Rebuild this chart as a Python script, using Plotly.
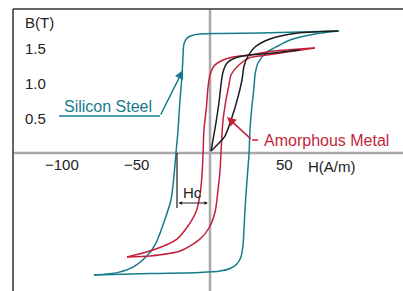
import plotly.graph_objects as go

# ---- data (H in A/m, B in T) ----
si_desc_H = [87.2, 60.8, 33.8, 6.8, -6.8, -12.2, -15.5, -17.6, -18.2, -18.9, -20.3, -21.6, -23.0, -24.3, -26.4, -31.8, -36.5, -42.6, -52.0, -62.0, -78.4]
si_desc_B = [1.743, 1.729, 1.714, 1.707, 1.70, 1.68, 1.643, 1.557, 1.40, 1.114, 0.757, 0.329, 0.0, -0.314, -0.671, -1.029, -1.286, -1.471, -1.629, -1.705, -1.743]
si_asc_H = [-78.4, -40.5, -6.8, 6.8, 13.5, 18.2, 20.9, 22.3, 23.6, 25.0, 26.4, 27.0, 28.4, 29.7, 30.4, 32.4, 38.5, 45.9, 54.1, 70.9, 87.2]
si_asc_B = [-1.743, -1.721, -1.707, -1.686, -1.65, -1.586, -1.486, -1.314, -0.814, -0.386, 0.0, 0.329, 0.686, 0.929, 1.114, 1.286, 1.443, 1.529, 1.614, 1.70, 1.743]

am_desc_H = [70.9, 60.8, 40.5, 27.0, 15.5, 7.4, 2.7, 0.0, -1.4, -2.4, -4.1, -4.7, -5.4, -6.8, -9.5, -14.9, -22.3, -38.5, -56.1]
am_desc_B = [1.50, 1.486, 1.45, 1.40, 1.371, 1.314, 1.243, 1.114, 0.929, 0.657, 0.329, 0.0, -0.314, -0.60, -0.843, -1.043, -1.229, -1.386, -1.486]
am_asc_H = [-56.1, -40.5, -20.3, -6.8, -0.7, 3.4, 5.4, 6.8, 7.4, 8.8, 10.8, 12.8, 14.2, 20.3, 27.0, 38.5, 54.1, 70.9]
am_asc_B = [-1.486, -1.471, -1.40, -1.229, -1.071, -0.843, -0.529, -0.243, 0.0, 0.471, 0.757, 0.971, 1.114, 1.271, 1.364, 1.40, 1.45, 1.50]

bk_desc_H = [60.8, 42.6, 27.0, 16.9, 11.5, 8.8, 7.4, 6.1, 4.1, 2.0, 0.7]
bk_desc_B = [1.471, 1.429, 1.40, 1.357, 1.286, 1.157, 0.971, 0.729, 0.443, 0.186, 0.029]
bk_asc_H = [0.7, 5.4, 10.1, 14.9, 18.9, 21.6, 23.0, 25.7, 30.4, 40.5, 59.5, 86.5]
bk_asc_B = [0.029, 0.129, 0.243, 0.514, 0.80, 1.043, 1.243, 1.386, 1.514, 1.629, 1.714, 1.743]

x_ticks = [-100, -50, 50]
x_tick_labels = ["\u2212100", "\u221250", "50"]
y_ticks = [0.5, 1.0, 1.5]
y_tick_labels = ["0.5", "1.0", "1.5"]

TEAL = "#177b8c"
RED = "#c41f3b"
BLACK = "#1e1e1e"
GRAY = "#a9a9a9"
FONT = "Liberation Sans, Arial, sans-serif"

fig = go.Figure()

def add(h, b, color):
    fig.add_trace(go.Scatter(x=h, y=b, mode="lines",
                             line=dict(color=color, width=1.5, shape="spline", smoothing=0.8),
                             hoverinfo="skip", showlegend=False))

# axes (gray)
fig.add_shape(type="line", xref="paper", yref="y", x0=13/403, x1=1, y0=0, y1=0,
              line=dict(color=GRAY, width=2.5), layer="below")
fig.add_shape(type="line", xref="x", yref="paper", x0=0, x1=0, y0=0, y1=1 - 9/291,
              line=dict(color=GRAY, width=2.5), layer="below")
# frame
fig.add_shape(type="line", xref="paper", yref="paper", x0=13/403, x1=13/403, y0=0, y1=1 - 9/291,
              line=dict(color="#333", width=1.5))
fig.add_shape(type="line", xref="paper", yref="paper", x0=13/403, x1=1, y0=1 - 9/291, y1=1 - 9/291,
              line=dict(color="#333", width=1.5))

add(si_desc_H, si_desc_B, TEAL)
add(si_asc_H, si_asc_B, TEAL)
add(am_desc_H, am_desc_B, RED)
add(am_asc_H, am_asc_B, RED)
add(bk_desc_H, bk_desc_B, BLACK)
add(bk_asc_H, bk_asc_B, BLACK)

ann = []
for v, t in zip(x_ticks, x_tick_labels):
    ann.append(dict(x=v, y=-0.17, text=t, showarrow=False, xanchor="center", yanchor="middle",
                    font=dict(size=15, color="#222", family=FONT)))
for v, t in zip(y_ticks, y_tick_labels):
    ann.append(dict(x=-118, y=v, text=t, showarrow=False, xanchor="center", yanchor="middle",
                    font=dict(size=15, color="#222", family=FONT)))
ann.append(dict(x=-115, y=1.86, text="B(T)", showarrow=False, xanchor="center", yanchor="middle",
                font=dict(size=15, color="#222", family=FONT)))
ann.append(dict(x=82.4, y=-0.19, text="H(A/m)", showarrow=False, xanchor="center", yanchor="middle",
                font=dict(size=15, color="#222", family=FONT)))

# Silicon Steel label
ann.append(dict(x=-69, y=0.66, text="Silicon Steel", showarrow=False, xanchor="center", yanchor="middle",
                font=dict(size=16, color=TEAL, family=FONT)))
fig.add_shape(type="line", xref="x", yref="y", x0=-102, x1=-33.8, y0=0.529, y1=0.529,
              line=dict(color=TEAL, width=1.5))
ann.append(dict(x=-18.2, y=1.186, ax=-33.8, ay=0.529, axref="x", ayref="y", text="",
                showarrow=True, arrowhead=2, arrowsize=1.2, arrowwidth=1.5, arrowcolor=TEAL))

# Amorphous Metal label
ann.append(dict(x=35.1, y=0.186, text="Amorphous Metal", showarrow=False, xanchor="left", yanchor="middle",
                font=dict(size=16, color=RED, family=FONT)))
fig.add_shape(type="line", xref="x", yref="y", x0=28.4, x1=32.4, y0=0.186, y1=0.186,
              line=dict(color=RED, width=1.5))
ann.append(dict(x=11.5, y=0.514, ax=28.4, ay=0.186, axref="x", ayref="y", text="",
                showarrow=True, arrowhead=2, arrowsize=1.2, arrowwidth=1.5, arrowcolor=RED))

# Hc marker
fig.add_shape(type="line", xref="x", yref="y", x0=-22.3, x1=-22.3, y0=0, y1=-0.786,
              line=dict(color=BLACK, width=1.2))
ann.append(dict(x=-1.4, y=-0.714, ax=-22.3, ay=-0.714, axref="x", ayref="y", text="",
                showarrow=True, arrowhead=2, startarrowhead=2, arrowside="end+start",
                arrowsize=0.6, startarrowsize=0.6, arrowwidth=1.2, arrowcolor=BLACK))
ann.append(dict(x=-11.5, y=-0.57, text="Hc", showarrow=False, xanchor="center", yanchor="middle",
                font=dict(size=15, color="#222", family=FONT)))

fig.update_layout(
    width=403, height=291,
    margin=dict(l=0, r=0, t=0, b=0),
    paper_bgcolor="white", plot_bgcolor="white",
    xaxis=dict(range=[-141.9, 130.4], showgrid=False, zeroline=False, showticklabels=False,
               ticks="", fixedrange=True),
    yaxis=dict(range=[-1.971, 2.186], showgrid=False, zeroline=False, showticklabels=False,
               ticks="", fixedrange=True),
    annotations=ann,
    showlegend=False,
)

fig.write_html("out.html", config={"displayModeBar": False},
               post_script="document.body.style.margin='0';document.body.style.overflow='hidden';")
